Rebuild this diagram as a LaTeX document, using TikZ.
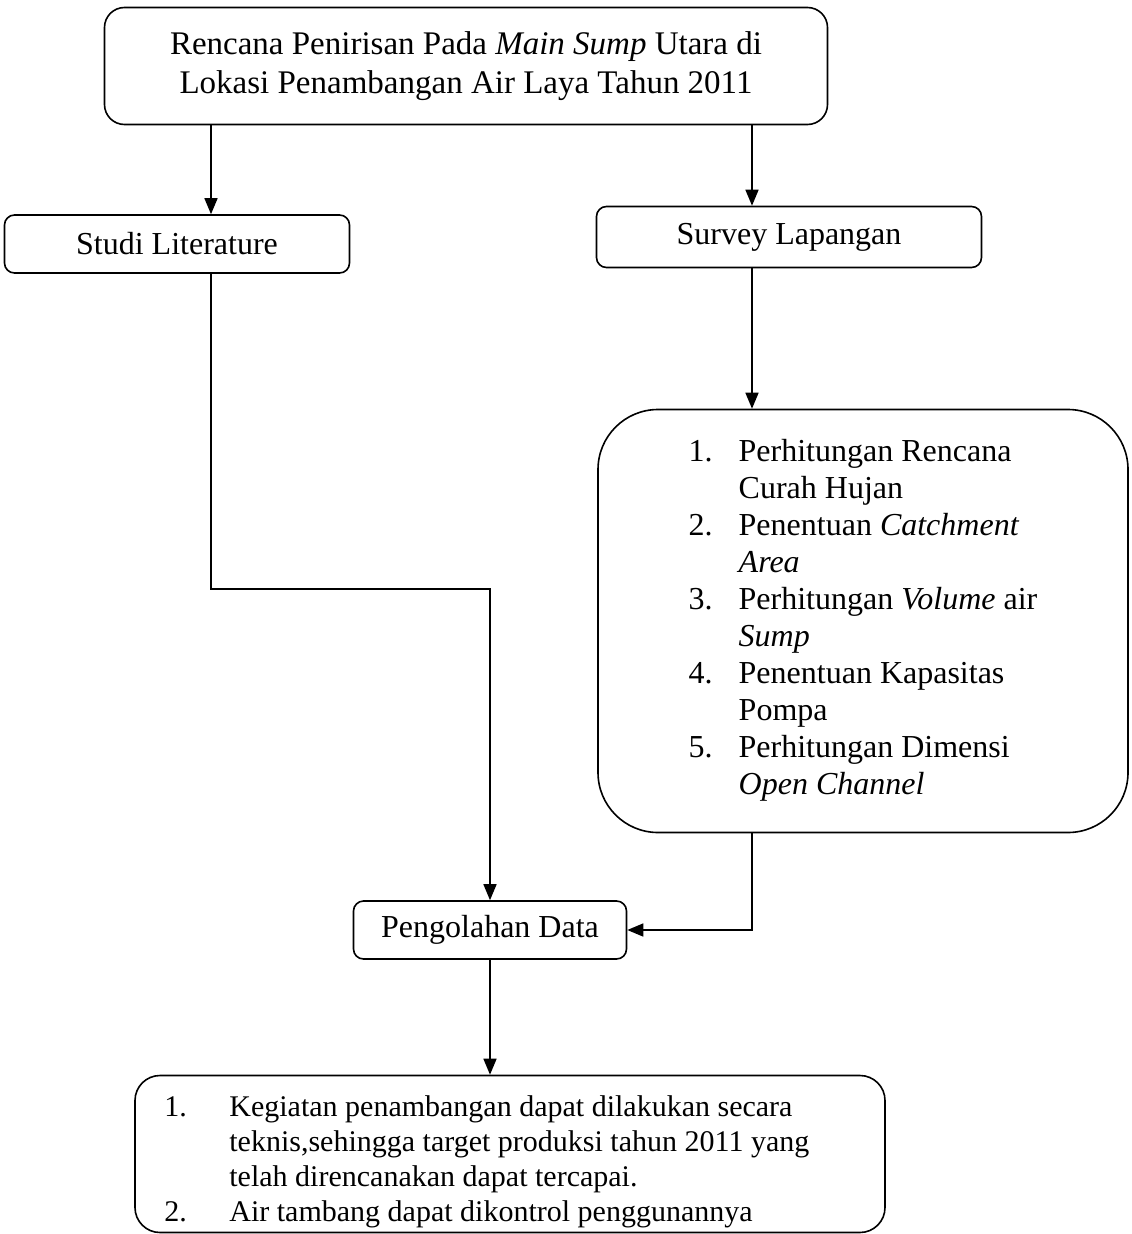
\documentclass[tikz,border=0pt]{standalone}
\usepackage{fontspec}
\setmainfont{Liberation Serif}
\usetikzlibrary{positioning, arrows.meta}

\begin{document}
\begin{tikzpicture}[x=1pt, y=-1pt,
  kotak/.style={draw, rounded corners=10pt, line width=1.6pt, inner sep=0pt, font=\fontsize{32}{37}\selectfont},
  panah/.style={line width=1.6pt, -{Triangle[length=16pt, width=13pt]}}]
\useasboundingbox (0,0) rectangle (1132,1234);

\node[kotak, rounded corners=20pt, minimum width=723pt, minimum height=117pt, align=center, font=\fontsize{33}{39}\selectfont] at (466,66) (judul) {Rencana Penirisan Pada \textit{Main Sump} Utara di\\Lokasi Penambangan Air Laya Tahun 2011} ;
\node[kotak, minimum width=345pt, minimum height=58pt] at (177,244) (studi) {Studi Literature} ;
\node[kotak, minimum width=385pt, minimum height=61pt] at (789,237) (survey) {Survey Lapangan} ;
\node[kotak, rounded corners=60pt, minimum width=530pt, minimum height=423pt] at (863,621) (hitung) {\begin{tabular}{@{}p{50pt}@{}l@{}}
1. & Perhitungan Rencana\\
   & Curah Hujan\\
2. & Penentuan \textit{Catchment}\\
   & \textit{Area}\\
3. & Perhitungan \textit{Volume} air\\
   & \textit{Sump}\\
4. & Penentuan Kapasitas\\
   & Pompa\\
5. & Perhitungan Dimensi\\
   & \textit{Open Channel}
\end{tabular}} ;
\node[kotak, minimum width=273pt, minimum height=58pt] at (490,930) (olah) {Pengolahan Data} ;
\node[kotak, rounded corners=25pt, minimum width=750pt, minimum height=157pt] at (510,1154) (hasil) {} ;
\node[anchor=north west, inner sep=0pt, font=\fontsize{30}{35}\selectfont] at ([xshift=30pt, yshift=-17pt]hasil.north west) (hasilteks) {\begin{tabular}{@{}p{65pt}@{}l@{}}
1. & Kegiatan penambangan dapat dilakukan secara\\
   & teknis,sehingga target produksi tahun 2011 yang\\
   & telah direncanakan dapat tercapai.\\
2. & Air tambang dapat dikontrol penggunannya
\end{tabular}} ;

\draw[panah] ([xshift=34pt]studi.north |- judul.south) -- ([xshift=34pt]studi.north) ;
\draw[panah] ([xshift=-37pt]survey.north |- judul.south) -- ([xshift=-37pt]survey.north) ;
\draw[panah] ([xshift=34pt]studi.south) -- ++(0,315) -| (olah.north) ;
\draw[panah] ([xshift=-37pt]survey.south) -- ([xshift=-37pt]survey.south |- hitung.north) ;
\draw[panah] ([xshift=-111pt]hitung.south) |- (olah.east) ;
\draw[panah] (olah.south) -- (olah.south |- hasil.north) ;
\end{tikzpicture}
\end{document}
